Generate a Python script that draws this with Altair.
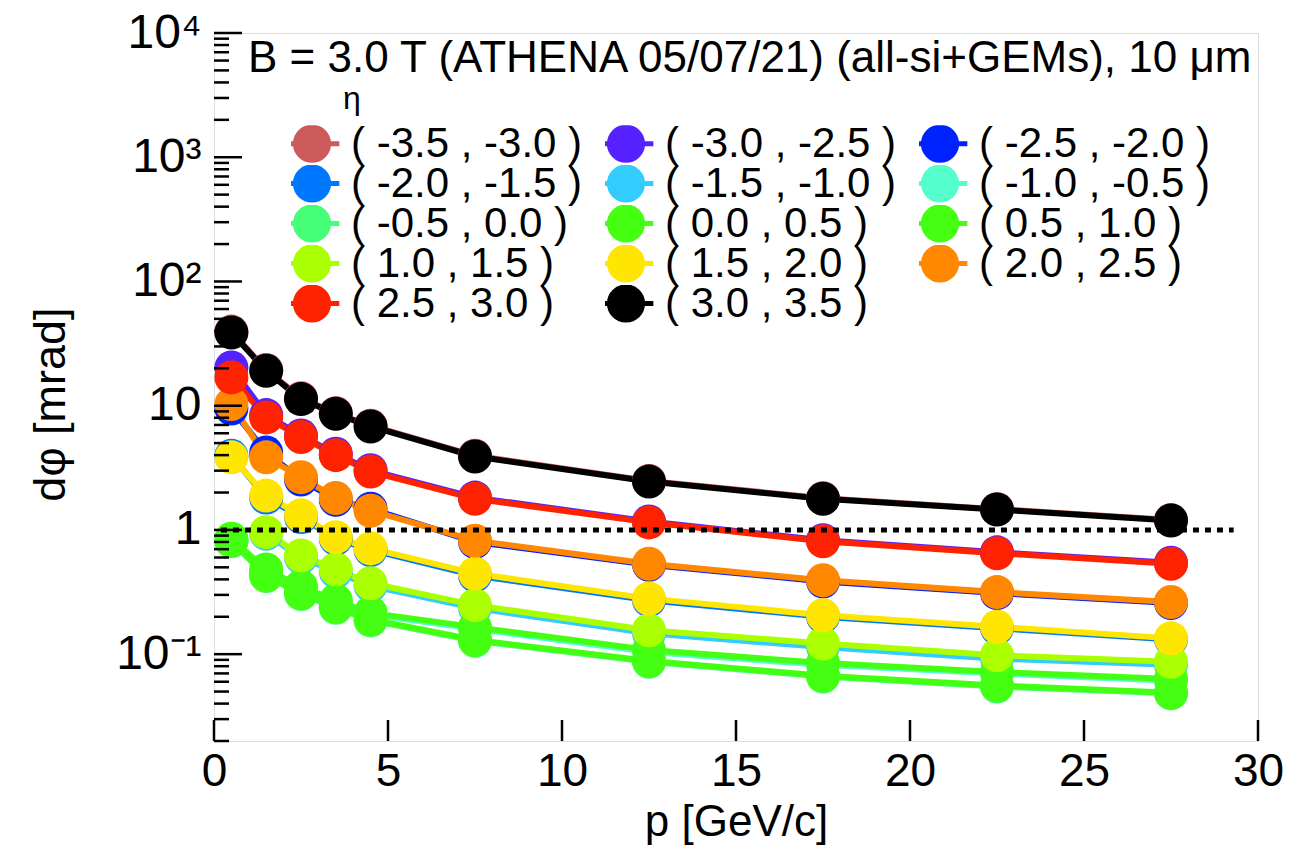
import altair as alt
import pandas as pd

# Momentum bin centres [GeV/c]
p_values = [0.5, 1.5, 2.5, 3.5, 4.5, 7.5, 12.5, 17.5, 22.5, 27.5]

# Pseudorapidity bins, in drawing / legend order
eta_bins = [
    "( -3.5 , -3.0 )", "( -3.0 , -2.5 )", "( -2.5 , -2.0 )",
    "( -2.0 , -1.5 )", "( -1.5 , -1.0 )", "( -1.0 , -0.5 )",
    "( -0.5 , 0.0 )", "( 0.0 , 0.5 )", "( 0.5 , 1.0 )",
    "( 1.0 , 1.5 )", "( 1.5 , 2.0 )", "( 2.0 , 2.5 )",
    "( 2.5 , 3.0 )", "( 3.0 , 3.5 )",
]
eta_colors = [
    "#cd5a5a", "#5522ff", "#0022ff",
    "#0077ff", "#33ccff", "#55ffcc",
    "#44ff77", "#44ff11", "#44ff11",
    "#aaff00", "#ffe600", "#ff8800",
    "#ff2200", "#000000",
]

# d(phi) resolution [mrad] per eta bin (None = no point)
dphi_m35_m30 = [39.5, 19.4, 11.5, 8.7, 6.9, 3.95, 2.48, 1.80, 1.47, 1.20]
dphi_m30_m25 = [20.3, 8.4, 5.75, 4.1, 3.02, 1.82, 1.17, 0.825, 0.66, 0.545]
dphi_m25_m20 = [9.5, 4.2, 2.55, 1.75, 1.48, 0.80, 0.525, 0.385, 0.31, 0.258]
dphi_m20_m15 = [3.95, 1.82, 1.27, 0.85, 0.69, 0.43, 0.272, 0.20, 0.162, 0.131]
dphi_m15_m10 = [None, 0.93, 0.60, 0.46, 0.355, 0.235, 0.147, 0.114, 0.092, 0.082]
dphi_m10_m05 = [0.83, 0.47, 0.34, 0.262, 0.208, 0.16, 0.104, 0.082, 0.070, 0.061]
dphi_m05_p00 = [0.81, 0.425, 0.305, 0.236, 0.187, 0.128, 0.087, 0.066, 0.055, 0.0485]
dphi_p00_p05 = [0.82, 0.43, 0.31, 0.24, 0.19, 0.13, 0.088, 0.067, 0.056, 0.049]
dphi_p05_p10 = [0.85, 0.48, 0.35, 0.27, 0.215, 0.165, 0.108, 0.085, 0.072, 0.063]
dphi_p10_p15 = [None, 0.96, 0.624, 0.482, 0.372, 0.248, 0.156, 0.122, 0.098, 0.0867]
dphi_p15_p20 = [3.84, 1.89, 1.31, 0.875, 0.71, 0.445, 0.28, 0.206, 0.166, 0.134]
dphi_p20_p25 = [10.3, 3.84, 2.66, 1.81, 1.43, 0.82, 0.535, 0.393, 0.316, 0.263]
dphi_p25_p30 = [16.9, 8.05, 5.6, 4.0, 2.95, 1.78, 1.15, 0.81, 0.65, 0.535]
dphi_p30_p35 = [38.8, 19.1, 11.3, 8.6, 6.8, 3.9, 2.45, 1.78, 1.46, 1.19]

series = [
    dphi_m35_m30, dphi_m30_m25, dphi_m25_m20, dphi_m20_m15, dphi_m15_m10,
    dphi_m10_m05, dphi_m05_p00, dphi_p00_p05, dphi_p05_p10, dphi_p10_p15,
    dphi_p15_p20, dphi_p20_p25, dphi_p25_p30, dphi_p30_p35,
]

# Axis tick values
x_ticks = [0, 5, 10, 15, 20, 25, 30]
y_decades = [0.1, 1, 10, 100, 1000, 10000]
y_minor = [m * d for d in [0.01, 0.1, 1, 10, 100, 1000] for m in range(2, 10)
           if 0.02 <= m * d <= 10000]

reference_level = 1.0
reference_span = [0.2, 29.3]

header = "B = 3.0 T (ATHENA 05/07/21) (all-si+GEMs), 10 \u03bcm"

rows = []
k = 0
for label, vals in zip(eta_bins, series):
    for p, v in zip(p_values, vals):
        if v is None:
            continue
        rows.append({"p": p, "dphi": v, "eta": label, "k": k})
        k += 1
df = pd.DataFrame(rows)

FONT = "Liberation Sans"
W, H = 1044, 708

x_scale = alt.Scale(domain=[0, 30], nice=False, zero=False)
y_scale = alt.Scale(type="log", domain=[0.02, 10000], nice=False)

label_expr = (
    "datum.value >= 9999 ? '10\u2074' : datum.value >= 999 ? '10\u00b3' : "
    "datum.value >= 99 ? '10\u00b2' : datum.value >= 9 ? '10' : "
    "datum.value >= 0.9 ? '1' : '10\u207b\u00b9'"
)

x_enc = alt.X(
    "p:Q", scale=x_scale,
    axis=alt.Axis(values=x_ticks, ticks=False, domain=False, grid=False,
                  labelFontSize=46, labelFont=FONT, labelColor="black",
                  labelPadding=8, title="p [GeV/c]", titleFontSize=44,
                  titleFont=FONT, titleFontWeight="normal", titleColor="black",
                  titlePadding=6, labelFlush=False),
)
y_enc = alt.Y(
    "dphi:Q", scale=y_scale,
    axis=alt.Axis(values=y_decades, ticks=False, domain=False, grid=False,
                  labelExpr=label_expr, labelFontSize=48, labelFont=FONT,
                  labelColor="black", labelPadding=13, labelFlush=False,
                  title="d\u03c6 [mrad]", titleFontSize=45, titleFont=FONT,
                  titleFontWeight="normal", titleColor="black",
                  titleX=-150, titleY=H / 2 + 17, titleAlign="center",
                  titleBaseline="alphabetic", titleAngle=270),
)

symbol_path = ("M -1.65 0 L 1.65 0 M 1 0 A 1 1 0 1 1 -1 0 "
               "A 1 1 0 1 1 1 0 Z")

legend = alt.Legend(
    title=None, orient="none", legendX=77, legendY=92, columns=3,
    direction="horizontal",
    symbolType=symbol_path, symbolSize=1100, symbolStrokeWidth=5,
    symbolOpacity=1, clipHeight=37,
    labelFontSize=42, labelFont=FONT, labelColor="black", labelOffset=18,
    rowPadding=-6, columnPadding=22, labelLimit=400,
)

color_scale = alt.Scale(domain=eta_bins, range=eta_colors)

base = alt.Chart(df)

lines = base.mark_line(strokeWidth=6).encode(
    x=x_enc, y=y_enc,
    color=alt.Color("eta:N", scale=color_scale, sort=eta_bins, legend=legend),
    order=alt.Order("p:Q"),
)

points = base.mark_circle(size=1156, opacity=1).encode(
    x=alt.X("p:Q", scale=x_scale),
    y=alt.Y("dphi:Q", scale=y_scale),
    color=alt.Color("eta:N", scale=color_scale, sort=eta_bins, legend=legend),
    order=alt.Order("k:Q"),
)

ref_line = alt.Chart(pd.DataFrame({
    "x": [reference_span[0]], "x2": [reference_span[1]], "y": [reference_level]
})).mark_rule(color="black", strokeWidth=5, strokeDash=[6, 6]).encode(
    x=alt.X("x:Q", scale=x_scale), x2="x2:Q", y=alt.Y("y:Q", scale=y_scale)
)

# Inward-pointing ticks on the y axis
y_major_ticks = alt.Chart(pd.DataFrame({"v": y_decades})).mark_rule(
    color="black", strokeWidth=2.5
).encode(y=alt.Y("v:Q", scale=y_scale), x=alt.value(0), x2=alt.value(28))
y_minor_ticks = alt.Chart(pd.DataFrame({"v": y_minor})).mark_rule(
    color="black", strokeWidth=2.5
).encode(y=alt.Y("v:Q", scale=y_scale), x=alt.value(0), x2=alt.value(15))

# Inward-pointing ticks on the x axis
x_major_ticks = alt.Chart(pd.DataFrame({"v": x_ticks})).mark_rule(
    color="black", strokeWidth=2.5
).encode(x=alt.X("v:Q", scale=x_scale), y=alt.value(H), y2=alt.value(H - 21))

header_text = alt.Chart(pd.DataFrame({"t": [header]})).mark_text(
    align="left", baseline="alphabetic", fontSize=44, font=FONT, color="black"
).encode(text="t:N", x=alt.value(34), y=alt.value(39))

eta_text = alt.Chart(pd.DataFrame({"t": ["\u03b7"]})).mark_text(
    align="center", baseline="alphabetic", fontSize=32, font=FONT, color="black"
).encode(text="t:N", x=alt.value(138), y=alt.value(76))

chart = alt.layer(
    lines, points, ref_line, y_major_ticks, y_minor_ticks, x_major_ticks,
    header_text, eta_text,
).properties(
    width=W, height=H,
    autosize=alt.AutoSizeParams(type="none"),
    padding={"left": 214, "top": 33, "right": 45, "bottom": 117},
).configure_view(
    stroke="black", strokeWidth=3
).configure(background="white")

chart.save("out.html", embed_options={"renderer": "svg", "actions": False})
